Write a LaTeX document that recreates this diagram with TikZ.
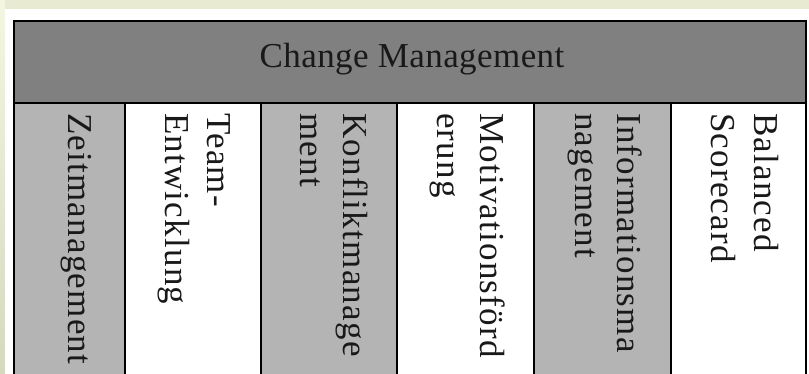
\documentclass[tikz,border=0pt]{standalone}
\usepackage{fontspec}
\setmainfont{Liberation Serif}
\newfontfamily\vfont[LetterSpace=3.5]{Liberation Serif}
\newfontfamily\hfont[LetterSpace=1.2]{Liberation Serif}
\definecolor{bgbeige}{HTML}{E8EBD2}
\definecolor{bgtop}{HTML}{F4F6E0}
\definecolor{bgbot}{HTML}{D6D9BD}
\definecolor{hdrgray}{HTML}{808080}
\definecolor{colgray}{HTML}{B4B4B4}
\tikzset{
  cellgray/.style={fill=colgray,draw=black,line width=1.5pt},
  cellwhite/.style={fill=white,draw=black,line width=1.5pt},
  hdrcell/.style={fill=hdrgray,draw=black,line width=1.5pt},
  vtext/.style={rotate=-90,anchor=base west,inner sep=0pt,font=\vfont\fontsize{35}{40}\selectfont,text=black!90},
  htext/.style={inner sep=0pt,font=\hfont\fontsize{35}{40}\selectfont,text=black!90}
}
\begin{document}
\begin{tikzpicture}[x=1pt,y=1pt]
\useasboundingbox (0,0) rectangle (809,-374);
% background
\fill[bgbeige] (0,0) rectangle (809,-374);
\shade[top color=bgtop,bottom color=bgbot] (0,0) rectangle (5,-374);
\fill[white] (5,-9) rectangle (809,-374);
% columns
\path[cellgray]  (14,-103)  rectangle (125,-380);
\path[cellwhite] (125,-103) rectangle (261,-380);
\path[cellgray]  (261,-103) rectangle (397,-380);
\path[cellwhite] (397,-103) rectangle (534,-380);
\path[cellgray]  (534,-103) rectangle (671,-380);
\path[cellwhite] (671,-103) rectangle (806,-380);
% header
\path[hdrcell] (14,-21) rectangle (806,-103);
\node[htext,anchor=base] (hdr) at (412,-68) {Change Management};
% column texts
\node[vtext] (t1)  at (68,-113)  {Zeitmanagement};
\node[vtext] (t2a) at (207,-113) {Team-};
\node[vtext] (t2b) at (165,-113) {Entwicklung};
\node[vtext] (t3a) at (343,-113) {Konfliktmanage};
\node[vtext] (t3b) at (300,-113) {ment};
\node[vtext] (t4a) at (480,-113) {Motivationsförd};
\node[vtext] (t4b) at (437,-113) {erung};
\node[vtext] (t5a) at (617,-113) {Informationsma};
\node[vtext] (t5b) at (575,-113) {nagement};
\node[vtext] (t6a) at (754,-113) {Balanced};
\node[vtext] (t6b) at (711,-113) {Scorecard};
\end{tikzpicture}
\end{document}
